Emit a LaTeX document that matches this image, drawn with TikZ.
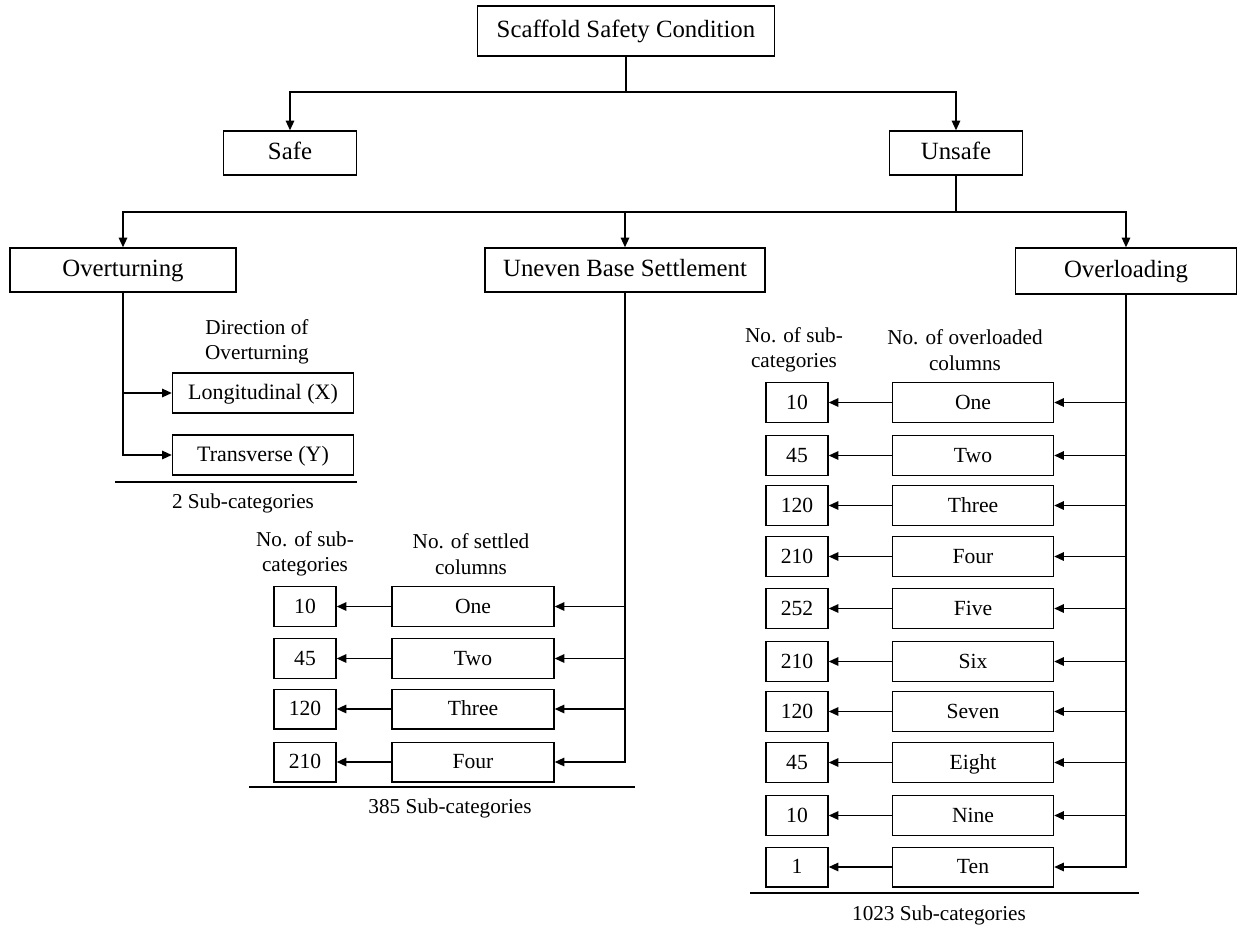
\documentclass[tikz,border=0pt]{standalone}
\usepackage{fontspec}
\setmainfont{Liberation Serif}
\usetikzlibrary{arrows.meta}

\begin{document}
\begin{tikzpicture}[x=0.5pt,y=-0.5pt,
  box/.style={draw, line width=0.7pt, inner sep=0pt, minimum height=22pt,
    text height=0.68em, text depth=0pt, font=\fontsize{12.4}{14}\selectfont},
  rowbox/.style={draw, line width=0.7pt, inner sep=0pt, minimum height=19.8pt,
    minimum width=80.5pt, text height=0.68em, text depth=0pt,
    font=\fontsize{10.8}{12}\selectfont},
  numbox/.style={draw, line width=0.7pt, inner sep=0pt, minimum height=19.8pt,
    minimum width=31pt, text height=0.68em, text depth=0pt,
    font=\fontsize{10.8}{12}\selectfont},
  note/.style={inner sep=0pt, align=center, font=\fontsize{10.6}{12.8}\selectfont},
  wire/.style={line width=0.75pt},
  conn/.style={line width=0.75pt, -{Triangle[length=4.8pt,width=4.2pt]}},
]
\useasboundingbox (0,0) rectangle (1238,927);

% top levels
\node[box, minimum width=148.5pt, minimum height=25pt] (root) at (626,31) {Scaffold Safety Condition};
\node[box, minimum width=66.5pt] (safe) at (290,153) {Safe};
\node[box, minimum width=66.5pt] (unsafe) at (956,153) {Unsafe};

\coordinate (j1) at (626,92);
\draw[wire] (root.south) -- (j1);
\draw[conn] (j1) -| (safe.north);
\draw[conn] (j1) -| (unsafe.north);

% failure modes
\node[box, minimum width=113pt] (over) at (123,270) {Overturning};
\node[box, minimum width=140pt] (uneven) at (625,270) {Uneven Base Settlement};
\node[box, minimum width=110.5pt, minimum height=23pt] (load) at (1126,271) {Overloading};

\coordinate (j2) at (956,212);
\draw[wire] (unsafe.south) -- (j2);
\draw[conn] (j2) -| (over.north);
\draw[conn] (j2) -| (uneven.north);
\draw[conn] (j2) -| (load.north);

% overturning directions
\node[note] (dirhead) at (257,342) {Direction of\\Overturning};
\node[box, minimum width=90.5pt, minimum height=20pt, font=\fontsize{11}{13}\selectfont] (lon) at (263,393) {Longitudinal (X)};
\node[box, minimum width=90.5pt, minimum height=20pt, font=\fontsize{11}{13}\selectfont] (tra) at (263,455) {Transverse (Y)};
\draw[conn] (over.south) |- (lon.west);
\draw[conn] (over.south) |- (tra.west);
\coordinate (ol1) at (115,482);
\coordinate (ol2) at (357,482);
\draw[wire] (ol1) -- (ol2);
\node[note] (otot) at (243,503) {2 Sub-categories};

% uneven base settlement
\node[note] (uh1) at (305,554) {No. of sub-\\categories};
\node[note] (uh2) at (471,554) {No. of settled\\columns};
\foreach \w/\n/\y [count=\i] in {One/10/606.5, Two/45/658.5, Three/120/709, Four/210/762}{
  \node[rowbox, minimum width=81pt] (u\i) at (473,\y) {\w};
  \node[numbox] (un\i) at (305,\y) {\n};
  \draw[conn] (uneven.south) |- (u\i.east);
  \draw[conn] (u\i.west) -- (un\i.east);
}
\coordinate (ul1) at (249,787);
\coordinate (ul2) at (635,787);
\draw[wire] (ul1) -- (ul2);
\node[note] (utot) at (450,808) {385 Sub-categories};

% overloading
\node[note] (lh1) at (794,350) {No. of sub-\\categories};
\node[note] (lh2) at (965,350) {No. of overloaded\\columns};
\foreach \w/\n/\y [count=\i] in {One/10/402.5, Two/45/455.5, Three/120/505.5, Four/210/556.5,
    Five/252/608.5, Six/210/661.5, Seven/120/711.5, Eight/45/762.5, Nine/10/815.5, Ten/1/867}{
  \node[rowbox] (l\i) at (973,\y) {\w};
  \node[numbox] (ln\i) at (797,\y) {\n};
  \draw[conn] (load.south) |- (l\i.east);
  \draw[conn] (l\i.west) -- (ln\i.east);
}
\coordinate (ll1) at (750,893);
\coordinate (ll2) at (1139,893);
\draw[wire] (ll1) -- (ll2);
\node[note] (ltot) at (939,915) {1023 Sub-categories};
\end{tikzpicture}
\end{document}
